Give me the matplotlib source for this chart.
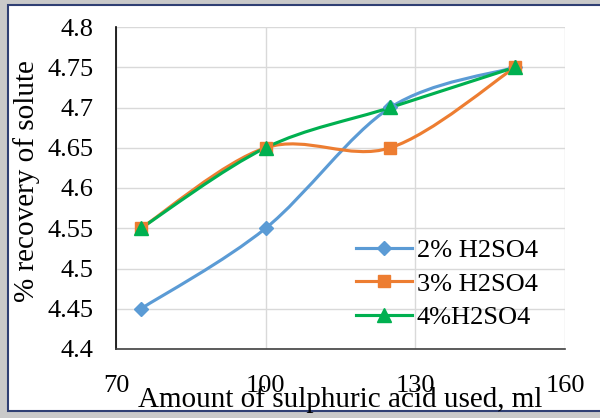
import numpy as np
import matplotlib
matplotlib.use('Agg')
import matplotlib.pyplot as plt
from matplotlib.path import Path
from matplotlib.patches import PathPatch, Rectangle
from matplotlib.lines import Line2D

# data
acid_ml = [75, 100, 125, 150]
h2so4_2 = [4.45, 4.55, 4.70, 4.75]
h2so4_3 = [4.55, 4.65, 4.65, 4.75]
h2so4_4 = [4.55, 4.65, 4.70, 4.75]
labels = ['2% H2SO4', '3% H2SO4', '4%H2SO4']
colors = ['#5B9BD5', '#ED7D31', '#00B050']
markers = ['D', 's', '^']
msizes = [7, 9, 10]

plt.rcParams['font.family'] = ['Liberation Serif', 'DejaVu Serif']


def smooth_path(x, y):
    # excel style smoothed line: catmull-rom as cubic bezier segments
    pts = np.column_stack([x, y]).astype(float)
    n = len(pts)
    verts = [pts[0]]
    codes = [Path.MOVETO]
    for i in range(n - 1):
        p0 = pts[i - 1] if i > 0 else pts[i]
        p1 = pts[i]
        p2 = pts[i + 1]
        p3 = pts[i + 2] if i + 2 < n else pts[i + 1]
        c1 = p1 + (p2 - p0) / 6.0
        c2 = p2 - (p3 - p1) / 6.0
        verts += [c1, c2, p2]
        codes += [Path.CURVE4] * 3
    return Path(verts, codes)


fig = plt.figure(figsize=(6.0, 4.18), dpi=100)

# chart frame with shadow
fig.patches.append(Rectangle((0, 0), 1, 1, transform=fig.transFigure,
                             facecolor='#c9c9c9', edgecolor='none', zorder=-3))
fig.patches.append(Rectangle((8 / 600, 7 / 418), 1.0, 1 - 12 / 418,
                             transform=fig.transFigure, facecolor='white',
                             edgecolor='#2F3F73', lw=1.5, zorder=-2))

ax = fig.add_axes([116 / 600, 1 - 349 / 418, (565 - 116) / 600, (349 - 27) / 418])
ax.set_facecolor('none')

series = [h2so4_2, h2so4_3, h2so4_4]
handles = []
for yv, c, m, ms, lab in zip(series, colors, markers, msizes, labels):
    ax.add_patch(PathPatch(smooth_path(acid_ml, yv), facecolor='none',
                           edgecolor=c, lw=2.25, zorder=3, capstyle='round'))
    ax.plot(acid_ml, yv, linestyle='none', marker=m, ms=ms, color=c, zorder=4)
    handles.append(Line2D([], [], color=c, lw=2.25, marker=m, ms=ms, label=lab))

ax.set_xlim(70, 160)
ax.set_ylim(4.4, 4.8)
ax.set_xticks([70, 100, 130, 160])
ax.set_yticks(np.arange(4.4, 4.801, 0.05))
ax.set_yticklabels(['4.4', '4.45', '4.5', '4.55', '4.6', '4.65', '4.7', '4.75', '4.8'])
ax.grid(True, color='#d9d9d9', lw=1)
ax.set_axisbelow(True)
ax.tick_params(length=0, labelsize=19, colors='black')
ax.tick_params(axis='y', pad=16)
ax.tick_params(axis='x', pad=19)
for s in ['top', 'right']:
    ax.spines[s].set_visible(False)
ax.spines['left'].set_color('black')
ax.spines['bottom'].set_color('#404040')
ax.spines['left'].set_linewidth(1.2)
ax.spines['bottom'].set_linewidth(1.2)

ax.set_xlabel('Amount of sulphuric acid used, ml', fontsize=21)
ax.xaxis.set_label_coords(0.499, -0.114)
ax.set_ylabel('% recovery of solute', fontsize=21)
ax.yaxis.set_label_coords(-0.17, 0.52)

ax.legend(handles=handles, loc='upper left', bbox_to_anchor=(0.535, 0.342),
          frameon=False, fontsize=19, handlelength=2.1, handletextpad=0.2,
          labelspacing=0.37, borderpad=0, borderaxespad=0)

fig.savefig('out.png', dpi=100)
